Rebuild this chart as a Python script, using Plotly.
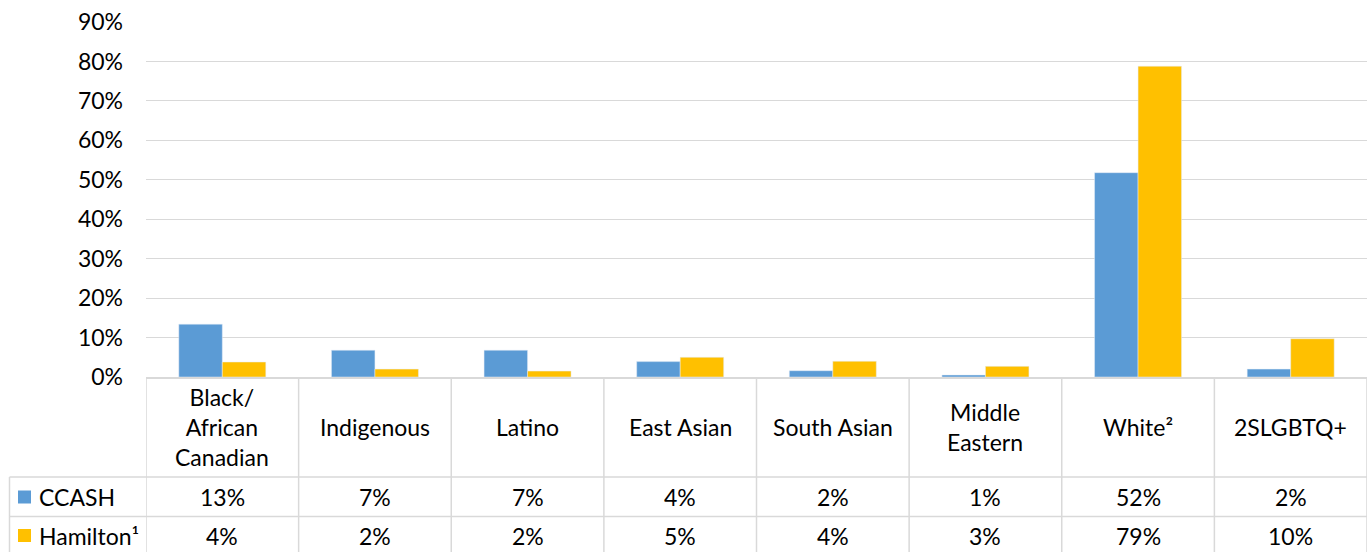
import plotly.graph_objects as go

categories = ["Black/<br>African<br>Canadian", "Indigenous", "Latino", "East Asian",
              "South Asian", "Middle<br>Eastern", "White²", "2SLGBTQ+"]
series_names = ["CCASH", "Hamilton¹"]
ccash = [13.4, 6.8, 6.8, 3.9, 1.6, 0.5, 51.8, 2.0]
hamilton = [3.8, 2.0, 1.5, 5.0, 4.0, 2.7, 78.8, 9.7]
ccash_labels = ["13%", "7%", "7%", "4%", "2%", "1%", "52%", "2%"]
hamilton_labels = ["4%", "2%", "2%", "5%", "4%", "3%", "79%", "10%"]
tick_vals = [0, 10, 20, 30, 40, 50, 60, 70, 80, 90]
tick_text = ["0%", "10%", "20%", "30%", "40%", "50%", "60%", "70%", "80%", "90%"]

colors = ["#5B9BD5", "#FFC000"]
W, H = 1372, 552
L, R, T, B = 146, 5, 22, 175
PW, PH = W - L - R, H - T - B
FONT = "Lato"
FS = 23
GRID = "#d9d9d9"


def py2p(py):
    return (H - B - py) / PH


def px2p(px):
    return (px - L) / PW


xidx = list(range(len(categories)))
fig = go.Figure()
fig.add_trace(go.Bar(x=xidx, y=ccash, name=series_names[0], marker_color=colors[0]))
fig.add_trace(go.Bar(x=xidx, y=hamilton, name=series_names[1], marker_color=colors[1]))

shapes = []
annotations = []
n = len(categories)
# vertical lines of table (category boundaries)
for i in range(n + 1):
    shapes.append(dict(type="line", xref="x", yref="paper", x0=i - 0.5, x1=i - 0.5,
                       y0=py2p(377), y1=py2p(560), line=dict(color=GRID, width=1.5)))
# legend column left border
shapes.append(dict(type="line", xref="paper", yref="paper", x0=px2p(9.5), x1=px2p(9.5),
                   y0=py2p(477), y1=py2p(560), line=dict(color=GRID, width=1.5)))
# horizontal row lines
for py in (477, 516.5):
    shapes.append(dict(type="line", xref="paper", yref="paper", x0=px2p(9.5), x1=1,
                       y0=py2p(py), y1=py2p(py), line=dict(color=GRID, width=1.5)))

# header labels
for i, c in enumerate(categories):
    annotations.append(dict(x=i, y=py2p(426.5), xref="x", yref="paper", text=c,
                            showarrow=False, xanchor="center", yanchor="middle",
                            font=dict(family=FONT, size=FS, color="#000")))
# row values
for row_py, labels in ((497, ccash_labels), (535.5, hamilton_labels)):
    for i, t in enumerate(labels):
        annotations.append(dict(x=i, y=py2p(row_py), xref="x", yref="paper", text=t,
                                showarrow=False, xanchor="center", yanchor="middle",
                                font=dict(family=FONT, size=FS, color="#000")))
# legend keys
for (row_py, name, col) in ((497, series_names[0], colors[0]), (535.5, series_names[1], colors[1])):
    shapes.append(dict(type="rect", xref="paper", yref="paper",
                       x0=px2p(18), x1=px2p(31), y0=py2p(row_py - 6.5), y1=py2p(row_py + 6.5),
                       fillcolor=col, line=dict(width=0)))
    annotations.append(dict(x=px2p(37), y=py2p(row_py), xref="paper", yref="paper", text=name,
                            showarrow=False, xanchor="left", yanchor="middle",
                            font=dict(family=FONT, size=FS, color="#000")))

fig.update_layout(
    width=W, height=H,
    margin=dict(l=L, r=R, t=T, b=B, pad=0),
    paper_bgcolor="white", plot_bgcolor="white",
    barmode="group", bargap=0.43, bargroupgap=0,
    showlegend=False,
    hovermode=False,
    font=dict(family=FONT, size=FS, color="#000"),
    xaxis=dict(range=[-0.5, n - 0.5], showticklabels=False, showgrid=False, zeroline=False,
               showline=True, linecolor=GRID, linewidth=1.5, fixedrange=True),
    yaxis=dict(range=[0, 90], tickvals=tick_vals, ticktext=tick_text, showgrid=True,
               gridcolor=GRID, gridwidth=1.3, zeroline=False, showline=False,
               ticklabelstandoff=22, tickfont=dict(family=FONT, size=FS, color="#000"),
               fixedrange=True),
    shapes=shapes,
    annotations=annotations,
)

fig.write_html("out.html", config={"displayModeBar": False},
               post_script="document.body.style.margin='0';document.body.style.overflow='hidden';")
